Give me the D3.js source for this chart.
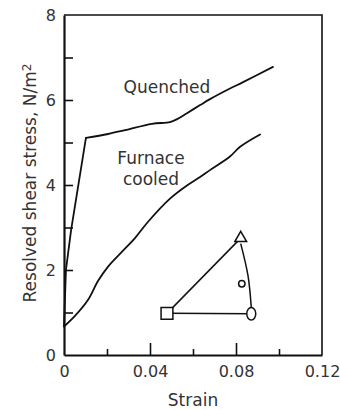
<!DOCTYPE html>
<html lang="en">
  <head>
    <meta charset="utf-8" />
    <title>Resolved shear stress vs strain</title>
    <script src="https://cdn.jsdelivr.net/npm/d3@7"></script>
    <style>
      body { margin: 0; background: #fff; }
    </style>
  </head>
  <body>
    <svg id="chart" width="340" height="410"></svg>
    <script>
      // values (strain, stress N/m^2)
      const quenchedStrain = [0, 0.0009, 0.0033, 0.0102, 0.0205, 0.0284, 0.0409, 0.0493, 0.0526, 0.0572, 0.0633, 0.0679, 0.0772, 0.0833, 0.0972];
      const quenchedStress = [0.68, 2.0, 2.94, 5.11, 5.2, 5.29, 5.44, 5.48, 5.55, 5.69, 5.88, 6.02, 6.27, 6.42, 6.78];
      const quenchedYieldIndex = 3; // sharp corner at yield
      const furnaceStrain = [0, 0.0051, 0.0112, 0.0158, 0.0205, 0.027, 0.033, 0.039, 0.0493, 0.0572, 0.0633, 0.0679, 0.0772, 0.0819, 0.0912];
      const furnaceStress = [0.67, 0.92, 1.3, 1.74, 2.08, 2.43, 2.75, 3.13, 3.68, 3.99, 4.19, 4.35, 4.67, 4.9, 5.19];

      const xMajorTicks = [0, 0.04, 0.08, 0.12];
      const xMinorTicks = [0.02, 0.06, 0.1];
      const yTicks = [0, 1, 2, 3, 4, 5, 6, 7, 8];
      const yLabelled = [0, 2, 4, 6, 8];

      // stereographic triangle inset, in plot units
      const poleNames = ["square", "triangle", "ellipse"];
      const poleStrain = [0.0479, 0.0822, 0.0871];
      const poleStress = [0.98, 2.75, 0.97];
      const arcStrain = [0.0822, 0.0856, 0.0871];
      const arcStress = [2.62, 1.86, 1.12];
      const specimenStrain = 0.0827;
      const specimenStress = 1.675;

      const svg = d3.select("#chart");
      const width = +svg.attr("width");
      const height = +svg.attr("height");
      const margin = { top: 15, right: 18, bottom: 55, left: 64 };
      const font = "DejaVu Sans";
      const ink = "#111";
      const textInk = "#333";

      const x = d3.scaleLinear().domain([0, 0.12]).range([margin.left, width - margin.right]);
      const y = d3.scaleLinear().domain([0, 8]).range([height - margin.bottom, margin.top]);

      // frame top + right
      svg.append("path")
        .attr("fill", "none")
        .attr("stroke", ink)
        .attr("stroke-width", 1.6)
        .attr("d", `M${x(0)},${y(8)}H${x(0.12)}V${y(0)}`);

      // x axis
      const xAxis = svg.append("g")
        .attr("transform", `translate(0,${y(0)})`)
        .call(d3.axisBottom(x).tickValues(xMajorTicks).tickSize(-12).tickSizeOuter(0).tickPadding(11)
          .tickFormat(d => d === 0 ? "0" : d3.format(".2f")(d)));
      svg.append("g")
        .attr("transform", `translate(0,${y(0)})`)
        .call(d3.axisBottom(x).tickValues(xMinorTicks).tickSize(-6).tickFormat(""))
        .call(g => g.select(".domain").remove());

      // y axis
      const yAxis = svg.append("g")
        .attr("transform", `translate(${x(0)},0)`)
        .call(d3.axisLeft(y).tickValues(yTicks).tickSize(-9).tickSizeOuter(0).tickPadding(8)
          .tickFormat(d => yLabelled.includes(d) ? d : ""));

      svg.selectAll(".tick line").attr("stroke", ink).attr("stroke-width", 1.6);
      svg.selectAll(".domain").attr("stroke", ink).attr("stroke-width", 2.2);
      svg.selectAll(".tick text")
        .attr("fill", textInk)
        .attr("font-family", font)
        .attr("font-size", "16px");
      yAxis.selectAll(".tick line").filter(d => d === 0 || d === 8).remove();
      xAxis.selectAll(".tick line").filter(d => d === 0 || d === 0.12).remove();

      // axis titles
      svg.append("text")
        .attr("x", (x(0) + x(0.12)) / 2)
        .attr("y", 406)
        .attr("text-anchor", "middle")
        .attr("font-family", font)
        .attr("font-size", "17px")
        .attr("fill", textInk)
        .text("Strain");

      const yTitle = svg.append("text")
        .attr("transform", `translate(36,${183}) rotate(-90)`)
        .attr("text-anchor", "middle")
        .attr("font-family", font)
        .attr("font-size", "17px")
        .attr("fill", textInk);
      yTitle.append("tspan").text("Resolved shear stress, N/m");
      yTitle.append("tspan").attr("dy", "-0.45em").attr("font-size", "12px").text("2");

      // curves
      const smooth = d3.line()
        .x(d => x(d[0]))
        .y(d => y(d[1]))
        .curve(d3.curveCatmullRom.alpha(0.5));
      const straight = d3.line()
        .x(d => x(d[0]))
        .y(d => y(d[1]));

      const quenched = quenchedStrain.map((s, i) => [s, quenchedStress[i]]);
      const furnace = furnaceStrain.map((s, i) => [s, furnaceStress[i]]);

      const curves = svg.append("g")
        .attr("fill", "none")
        .attr("stroke", ink)
        .attr("stroke-width", 1.8)
        .attr("stroke-linejoin", "round")
        .attr("stroke-linecap", "round");
      curves.append("path").attr("d", straight(quenched.slice(0, quenchedYieldIndex + 1)));
      curves.append("path").attr("d", smooth(quenched.slice(quenchedYieldIndex)));
      curves.append("path").attr("d", smooth(furnace));

      // curve labels
      svg.append("text")
        .attr("x", 167).attr("y", 93)
        .attr("text-anchor", "middle")
        .attr("font-family", font).attr("font-size", "17px").attr("fill", textInk)
        .text("Quenched");
      svg.append("text")
        .attr("x", 151).attr("y", 164)
        .attr("text-anchor", "middle")
        .attr("font-family", font).attr("font-size", "17px").attr("fill", textInk)
        .text("Furnace");
      svg.append("text")
        .attr("x", 151).attr("y", 185)
        .attr("text-anchor", "middle")
        .attr("font-family", font).attr("font-size", "17px").attr("fill", textInk)
        .text("cooled");

      // inset triangle
      const inset = svg.append("g")
        .attr("stroke", ink)
        .attr("stroke-width", 1.5)
        .attr("fill", "none");

      inset.append("line")
        .attr("x1", x(poleStrain[0])).attr("y1", y(poleStress[0]))
        .attr("x2", x(poleStrain[1])).attr("y2", y(poleStress[1]));
      inset.append("line")
        .attr("x1", x(poleStrain[0])).attr("y1", y(poleStress[0]))
        .attr("x2", x(poleStrain[2])).attr("y2", y(poleStress[2]));
      inset.append("path")
        .attr("d", d3.line().x(d => x(d[0])).y(d => y(d[1])).curve(d3.curveNatural)(
          arcStrain.map((s, i) => [s, arcStress[i]])));

      const symbols = {
        square: d3.symbol(d3.symbolSquare, 140),
        triangle: d3.symbol(d3.symbolTriangle, 60)
      };
      poleNames.forEach((name, i) => {
        const px = x(poleStrain[i]);
        const py = y(poleStress[i]);
        if (name === "ellipse") {
          inset.append("ellipse")
            .attr("cx", px).attr("cy", py)
            .attr("rx", 4.5).attr("ry", 6.3)
            .attr("fill", "#fff");
        } else {
          inset.append("path")
            .attr("transform", `translate(${px},${py})`)
            .attr("d", symbols[name]())
            .attr("fill", "#fff");
        }
      });
      inset.append("circle")
        .attr("cx", x(specimenStrain)).attr("cy", y(specimenStress))
        .attr("r", 3.2)
        .attr("fill", "#fff");
    </script>
  </body>
</html>
